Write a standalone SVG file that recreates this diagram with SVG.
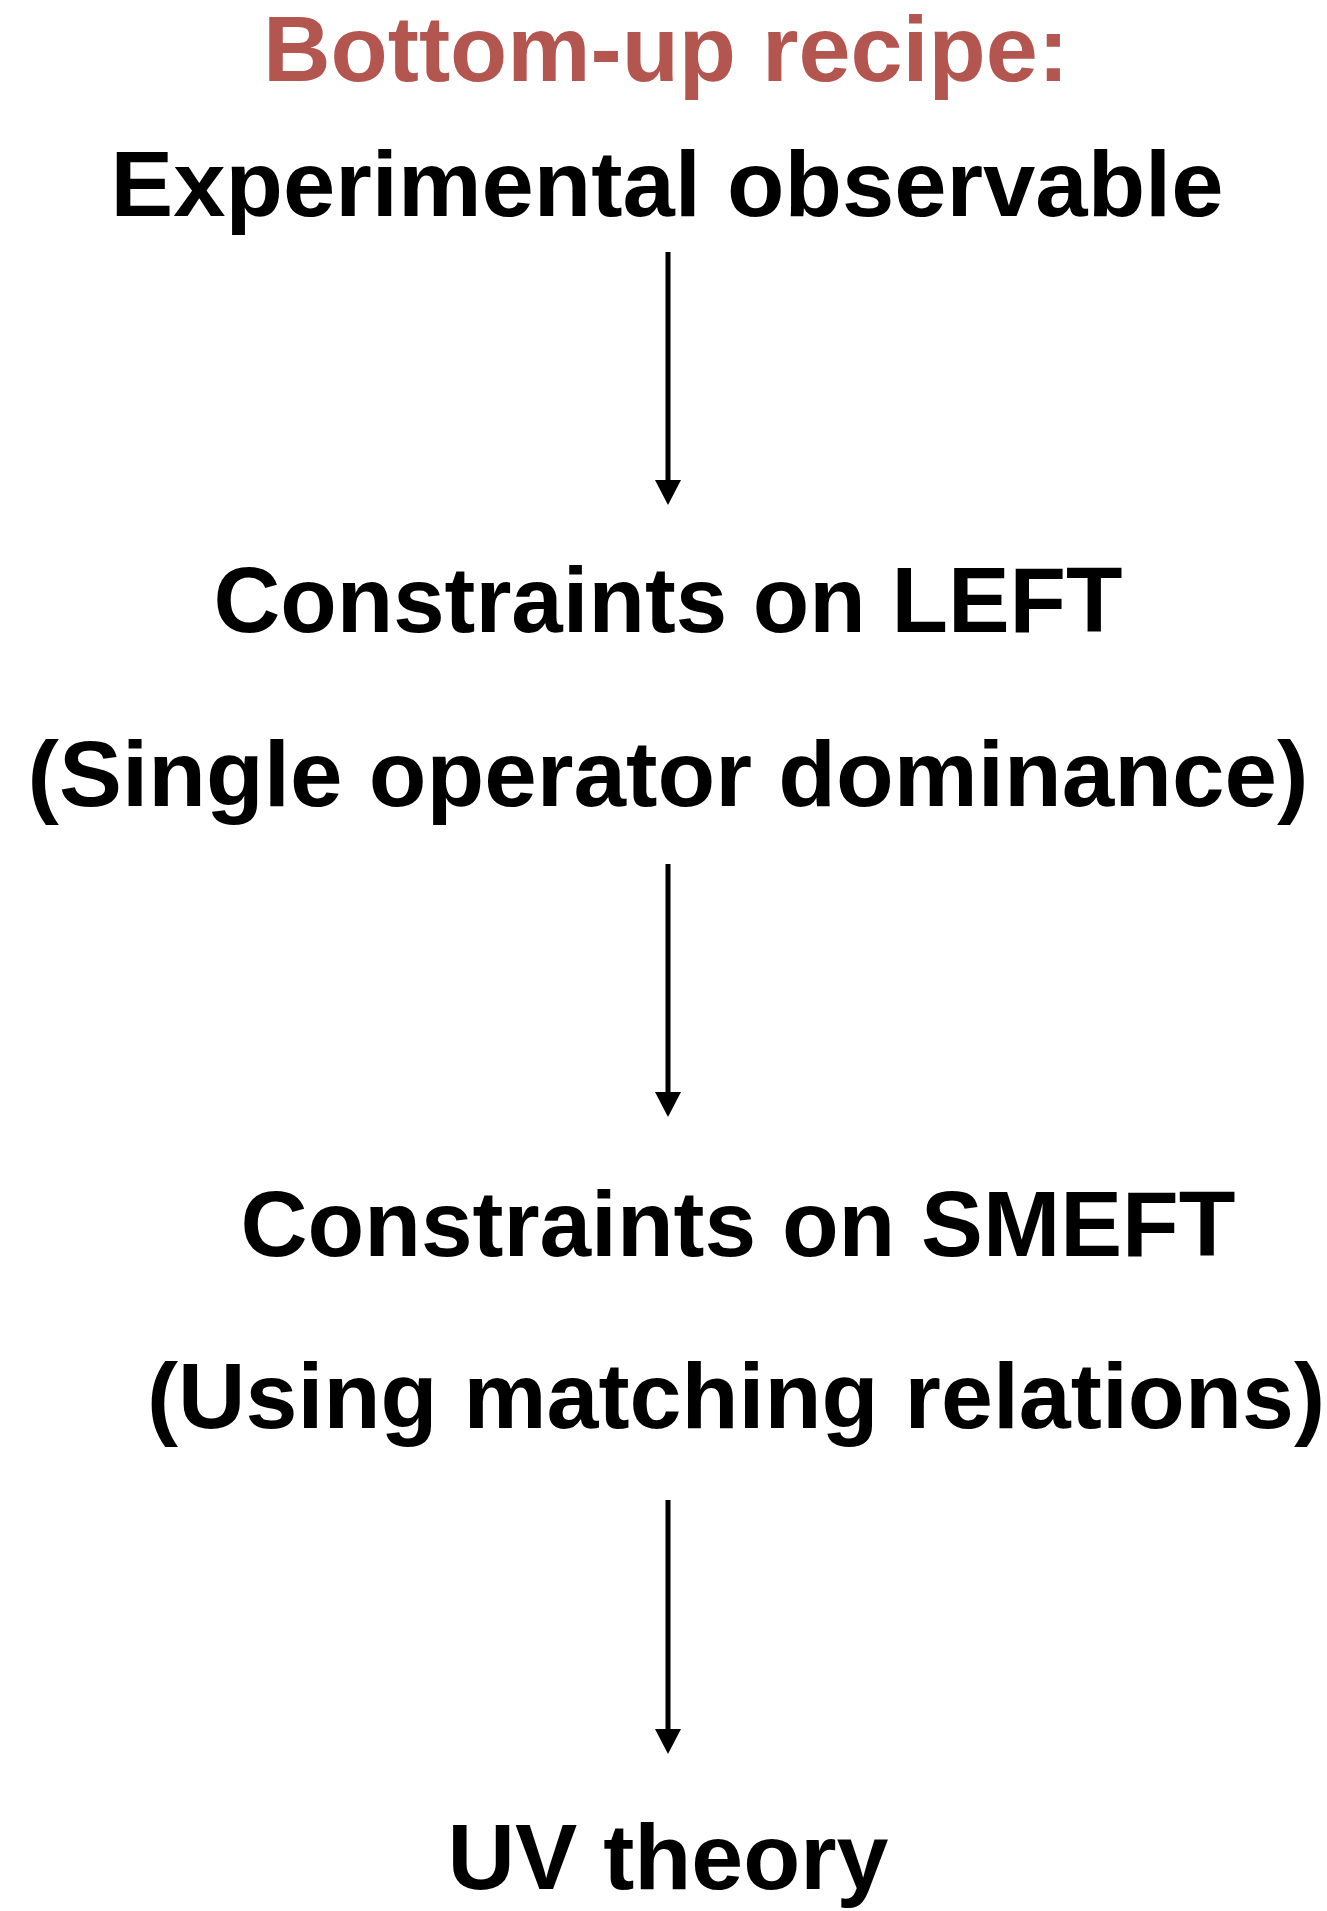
<svg xmlns="http://www.w3.org/2000/svg" width="1327" height="1911" viewBox="0 0 1327 1911">
  <style>
    .lbl { font-family: "Liberation Sans", Arial, sans-serif; font-weight: bold; font-size: 93px; fill: #000; text-anchor: middle; }
    .title { fill: #b45650; }
    .conn { stroke: #000; stroke-width: 5; fill: none; marker-end: url(#head); }
  </style>
  <defs>
    <marker id="head" markerUnits="userSpaceOnUse" markerWidth="25" markerHeight="26" viewBox="0 0 25 26" refX="0" refY="13" orient="auto">
      <path d="M0,0 L25,13 L0,26 z" fill="#000"/>
    </marker>
  </defs>
  <rect width="1327" height="1911" fill="#fff"/>

  <g id="title">
    <text class="lbl title" x="666" y="81" textLength="806" lengthAdjust="spacingAndGlyphs">Bottom-up recipe:</text>
  </g>
  <g id="observable">
    <text class="lbl" x="667" y="216" textLength="1113" lengthAdjust="spacingAndGlyphs">Experimental observable</text>
  </g>
  <g id="left">
    <text class="lbl" x="668" y="632" textLength="909" lengthAdjust="spacingAndGlyphs">Constraints on LEFT</text>
    <text class="lbl" x="668" y="806" textLength="1281" lengthAdjust="spacingAndGlyphs">(Single operator dominance)</text>
  </g>
  <g id="smeft">
    <text class="lbl" x="738" y="1256" textLength="995" lengthAdjust="spacingAndGlyphs">Constraints on SMEFT</text>
    <text class="lbl" x="736" y="1428" textLength="1178" lengthAdjust="spacingAndGlyphs">(Using matching relations)</text>
  </g>
  <g id="uv">
    <text class="lbl" x="668" y="1889" textLength="441" lengthAdjust="spacingAndGlyphs">UV theory</text>
  </g>

  <g id="connectors">
    <line class="conn" x1="668" y1="252" x2="668" y2="480"/>
    <line class="conn" x1="668" y1="864" x2="668" y2="1092"/>
    <line class="conn" x1="668" y1="1500" x2="668" y2="1729"/>
  </g>
</svg>
